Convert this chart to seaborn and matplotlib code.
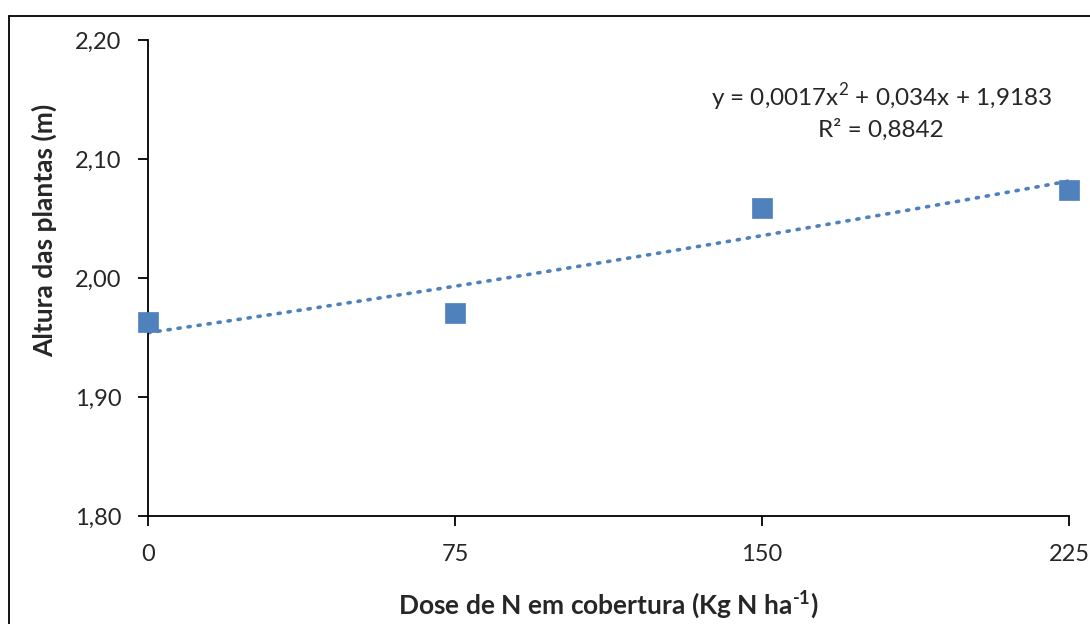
import numpy as np
import pandas as pd
import seaborn as sns
import matplotlib.pyplot as plt
from matplotlib.lines import Line2D

# data
doses = [0, 75, 150, 225]
altura = [1.963, 1.971, 2.059, 2.074]
# trendline from the Excel label (x coded 1..4)
coef = [0.0017, 0.034, 1.9183]
eq_text = 'y = 0,0017x$^{\\mathsf{2}}$ + 0,034x + 1,9183\nR² = 0,8842'
yticks = [1.80, 1.90, 2.00, 2.10, 2.20]
xticks = [0, 75, 150, 225]

sns.set_style('white')
plt.rcParams['font.family'] = ['Lato', 'DejaVu Sans']
plt.rcParams['mathtext.fontset'] = 'custom'
plt.rcParams['mathtext.rm'] = 'Lato:bold'
plt.rcParams['mathtext.bf'] = 'Lato:bold'
plt.rcParams['mathtext.sf'] = 'Lato:weight=normal'

blue = '#4F81BD'
fig = plt.figure(figsize=(10.9, 6.24), dpi=100)
ax = fig.add_axes([0.1358, 0.1731, 0.8450, 0.7628])

df = pd.DataFrame({'dose': doses, 'altura': altura})

# trendline
xs = np.linspace(0, 225, 200)
xc = 1 + xs / 75
trend = pd.DataFrame({'dose': xs, 'altura': np.polyval(coef, xc)})
sns.lineplot(data=trend, x='dose', y='altura', ax=ax, color=blue,
             linestyle=(0, (0.6, 2.2)), linewidth=2.6, dash_capstyle='round')

sns.scatterplot(data=df, x='dose', y='altura', ax=ax, marker='s', s=190,
                color=blue, edgecolor=blue, linewidth=0.5, clip_on=False, zorder=5)

ax.set_xlim(0, 225)
ax.set_ylim(1.80, 2.20)
ax.set_xticks(xticks)
ax.set_xticklabels([str(v) for v in xticks])
ax.set_yticks(yticks)
ax.set_yticklabels([f'{v:.2f}'.replace('.', ',') for v in yticks])
ax.tick_params(axis='both', labelsize=17, length=7, width=1.3, color='black',
               direction='out', bottom=True, left=True)
ax.tick_params(axis='x', pad=13)
ax.tick_params(axis='y', pad=12)

for side in ['top', 'right']:
    ax.spines[side].set_visible(False)
for side in ['left', 'bottom']:
    ax.spines[side].set_color('black')
    ax.spines[side].set_linewidth(1.3)

ax.set_xlabel(r'Dose de N em cobertura (Kg N ha$^{\text{-1}}$)',
              fontsize=19, fontweight='bold')
ax.set_ylabel('Altura das plantas (m)', fontsize=19, fontweight='bold')
ax.xaxis.set_label_coords(0.5, -0.187)
ax.yaxis.set_label_coords(-0.112, 0.60)
ax.xaxis.label.set_va('center')
ax.yaxis.label.set_va('center')

ax.text(0.796, 0.851, eq_text, transform=ax.transAxes, ha='center', va='center',
        fontsize=17.5, linespacing=1.3)

# chart border (only left and top visible in the crop)
fig.add_artist(Line2D([9 / 1090, 9 / 1090], [0, 1 - 16 / 624], color='black', lw=1.3))
fig.add_artist(Line2D([9 / 1090, 1], [1 - 16 / 624, 1 - 16 / 624], color='black', lw=1.3))

fig.savefig('out.png', dpi=100)
